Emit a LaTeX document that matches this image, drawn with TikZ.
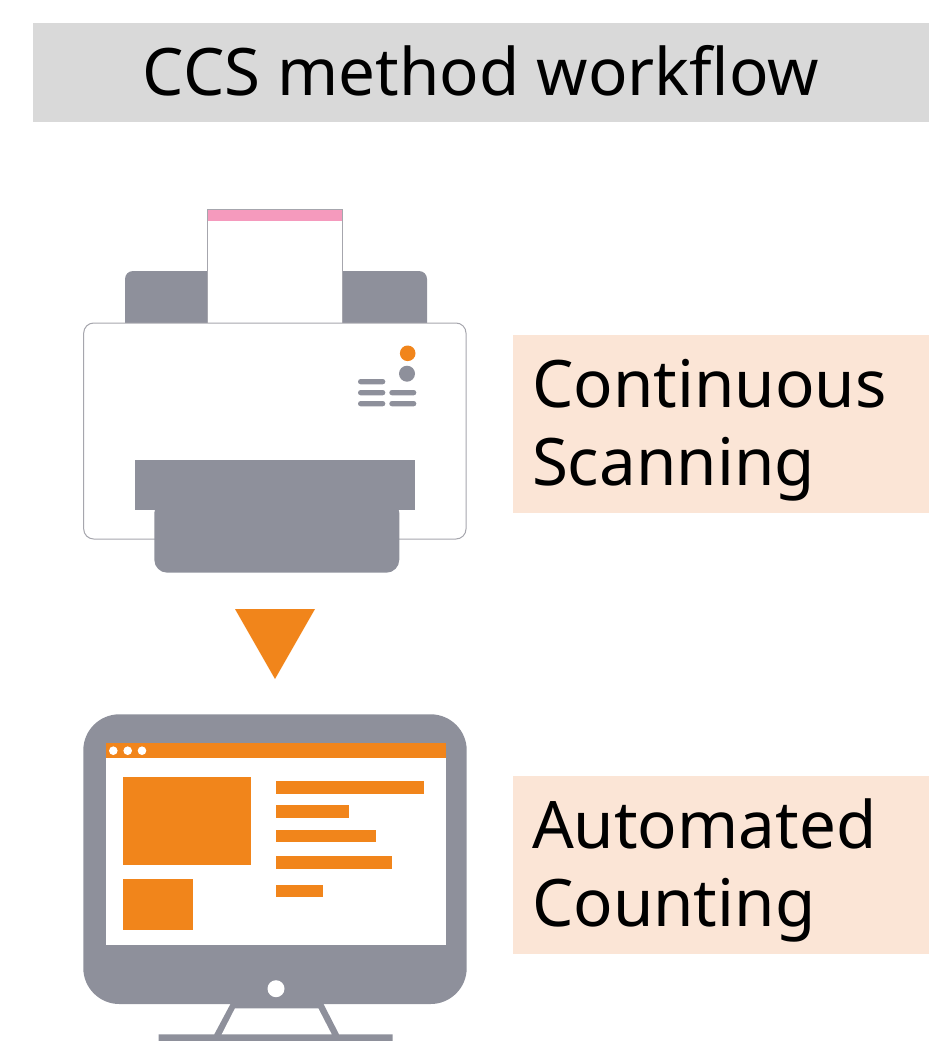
\documentclass[tikz,border=0pt]{standalone}
\usepackage{fontspec}
\setmainfont{Noto Sans}
\definecolor{scangray}{HTML}{8E909B}
\definecolor{workorange}{HTML}{F1851B}
\definecolor{paperpink}{HTML}{F59ABD}
\definecolor{titlegray}{HTML}{D9D9D9}
\definecolor{stepbg}{HTML}{FBE5D6}
\definecolor{edgegray}{HTML}{A6A6AD}
\tikzset{
    stepbox/.style={fill=stepbg, minimum width=416pt, minimum height=178pt, inner xsep=19pt, inner ysep=0pt, text width=378pt, align=left, font=\fontsize{65.5}{78}\selectfont, execute at begin node=\rule{0pt}{60pt}},
    titlebox/.style={fill=titlegray, minimum width=896pt, minimum height=99pt, text depth=4pt, font=\fontsize{65.5}{78}\selectfont},
    outline/.style={draw=edgegray, line width=1pt, fill=white},
    pill/.style={fill=scangray, rounded corners=2.6pt}
}

\begin{document}
\begin{tikzpicture}[x=1pt, y=-1pt]
        \useasboundingbox (0,0) rectangle (929,1041);

        \node[titlebox] (title) at (481,72.5) {CCS method workflow};
        \node[stepbox] (scanning) at (721,424) {Continuous\\Scanning};
        \node[stepbox] (counting) at (721,865) {Automated\\Counting};

        \fill[scangray] (125,324)[rounded corners=8pt]--(125,271)--(427,271)[sharp corners]--(427,324)--cycle;
        \draw[outline] (207,323)--(207,209)--(342.7,209)--(342.7,323);
        \fill[paperpink] (207.5,209.5) rectangle (342.2,221);
        \draw[outline, rounded corners=10pt] (83.7,323) rectangle (466,539);
        \fill[scangray] (135.3,460) rectangle (415,510);
        \fill[scangray, rounded corners=13pt] (154.3,500)--(154.3,572.7)--(399.3,572.7)--(399.3,500)--cycle;
        \fill[workorange] (407.7,353.3) circle (7.8pt);
        \fill[scangray] (407,373.7) circle (8pt);
        \fill[pill] (358,379) rectangle (385.3,384.3);
        \fill[pill] (358,390) rectangle (385.3,395.3);
        \fill[pill] (358,401) rectangle (385.3,406.3);
        \fill[pill] (389.3,390) rectangle (416.3,395.3);
        \fill[pill] (389.3,401) rectangle (416.3,406.3);

        \fill[workorange] (235,609)--(315,609)--(275,679)--cycle;

        \fill[scangray] (231,1003)--(214.3,1034.3)--(158.7,1034.3)--(158.7,1041)--(392.7,1041)--(392.7,1034.3)--(339,1034.3)--(323,1003)--cycle;
        \fill[white] (235,1008.3)--(221.7,1034.3)--(331.7,1034.3)--(318.3,1008.3)--cycle;
        \fill[scangray, rounded corners=36pt] (83.3,714.3) rectangle (466.7,1004);
        \fill[white] (106,743) rectangle (446.3,945);
        \fill[workorange] (106,743) rectangle (446.3,758);
        \fill[white] (113.3,750.7) circle (4.3pt);
        \fill[white] (127.7,750.7) circle (4.3pt);
        \fill[white] (142,750.7) circle (4.3pt);
        \fill[workorange] (123,777) rectangle (251,864.7);
        \fill[workorange] (123,879) rectangle (193.3,930);
        \fill[workorange] (276,781) rectangle (424.3,793.7);
        \fill[workorange] (276,805.3) rectangle (349,817.7);
        \fill[workorange] (276,830) rectangle (375.7,842.3);
        \fill[workorange] (276,856) rectangle (392,868.7);
        \fill[workorange] (276,884.7) rectangle (322.7,897);
        \fill[white] (276,988.7) circle (8.5pt);
    \end{tikzpicture}
\end{document}
